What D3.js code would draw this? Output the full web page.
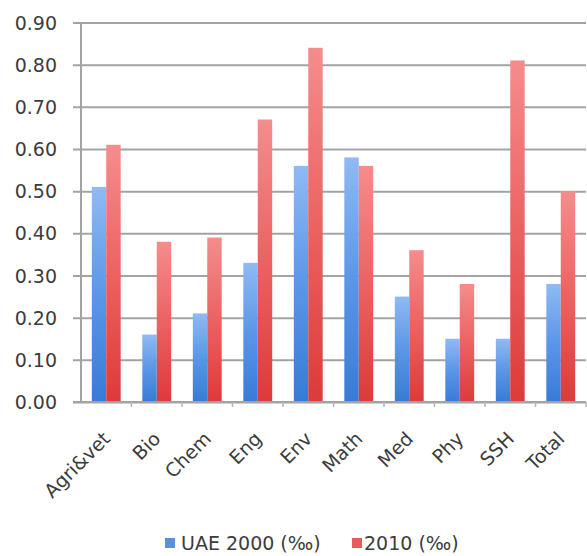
<!DOCTYPE html>
<html>
<head>
<meta charset="utf-8">
<script src="https://cdn.jsdelivr.net/npm/d3@7"></script>
<style>
  html, body { margin: 0; padding: 0; background: #fff; }
  svg { display: block; }
  text { font-family: "DejaVu Sans", Verdana, sans-serif; fill: #3c3c3c; }
</style>
</head>
<body>
<svg id="chart" width="587" height="556"></svg>
<script>
// Fields of research
const categories = ["Agri&vet", "Bio", "Chem", "Eng", "Env", "Math", "Med", "Phy", "SSH", "Total"];
// Per-mille shares, UAE 2000 and 2010
const uae2000 = [0.51, 0.16, 0.21, 0.33, 0.56, 0.58, 0.25, 0.15, 0.15, 0.28];
const uae2010 = [0.61, 0.38, 0.39, 0.67, 0.84, 0.56, 0.36, 0.28, 0.81, 0.50];
const seriesNames = ["UAE 2000 (‰)", "2010 (‰)"];
const yTicks = [0, 0.1, 0.2, 0.3, 0.4, 0.5, 0.6, 0.7, 0.8, 0.9];

const svg = d3.select("#chart");
const plotLeft = 81, plotRight = 586, plotTop = 22.5, plotBottom = 402;
const fontSize = "19px";

const x = d3.scaleBand().domain(categories).range([plotLeft, plotRight]).paddingInner(0).paddingOuter(0);
const y = d3.scaleLinear().domain([0, 0.9]).range([plotBottom, plotTop]);
const groupW = x.bandwidth() / 1.75;
const x1 = d3.scaleBand().domain([0, 1]).range([0, groupW]).padding(0);

// Gradients for the two series
const defs = svg.append("defs");
const grads = [
  { id: "gBlue", stops: ["#8fbaf4", "#5b96e8", "#377bd6"] },
  { id: "gRed", stops: ["#f68c8c", "#ec6262", "#dd3a3a"] }
];
grads.forEach(g => {
  const lgr = defs.append("linearGradient").attr("id", g.id)
    .attr("x1", 0).attr("y1", 0).attr("x2", 0).attr("y2", 1);
  lgr.append("stop").attr("offset", "0%").attr("stop-color", g.stops[0]);
  lgr.append("stop").attr("offset", "50%").attr("stop-color", g.stops[1]);
  lgr.append("stop").attr("offset", "100%").attr("stop-color", g.stops[2]);
});
const fills = ["url(#gBlue)", "url(#gRed)"];
const legendFills = ["#5b8fdc", "#e55a5a"];

// Gridlines with ticks extending left of the axis
const yAxis = d3.axisLeft(y).tickValues(yTicks)
  .tickSize(-(plotRight - plotLeft)).tickPadding(0).tickFormat("");
const gy = svg.append("g").attr("transform", `translate(${plotLeft},0)`).call(yAxis);
gy.select(".domain").remove();
gy.selectAll(".tick line").attr("x1", -8).attr("stroke", "#a3a3a3").attr("stroke-width", 2);

// Y tick labels
svg.append("g").selectAll("text").data(yTicks).join("text")
  .attr("x", 57).attr("y", d => y(d))
  .attr("text-anchor", "end").attr("dominant-baseline", "central")
  .style("font-size", fontSize)
  .text(d => d3.format(".2f")(d));

// Bars
const rows = categories.map((c, i) => ({ c, v: [uae2000[i], uae2010[i]] }));
const groups = svg.append("g").selectAll("g").data(rows).join("g")
  .attr("transform", d => `translate(${x(d.c) + (x.bandwidth() - groupW) / 2},0)`);
groups.selectAll("rect").data(d => d.v.map((v, s) => ({ v, s }))).join("rect")
  .attr("x", d => x1(d.s))
  .attr("width", x1.bandwidth())
  .attr("y", d => y(d.v))
  .attr("height", d => y(0) - y(d.v))
  .attr("fill", d => fills[d.s]);

// Y axis line
svg.append("line").attr("x1", plotLeft).attr("x2", plotLeft).attr("y1", plotTop).attr("y2", plotBottom)
  .attr("stroke", "#a3a3a3").attr("stroke-width", 2);

// X axis with ticks at category boundaries
svg.append("line").attr("x1", plotLeft - 8).attr("x2", plotRight).attr("y1", plotBottom).attr("y2", plotBottom)
  .attr("stroke", "#a3a3a3").attr("stroke-width", 2);
svg.append("g").selectAll("line").data(categories).join("line")
  .attr("x1", d => x(d) + x.bandwidth())
  .attr("x2", d => x(d) + x.bandwidth())
  .attr("y1", plotBottom).attr("y2", plotBottom + 5)
  .attr("stroke", "#b5b5b5").attr("stroke-width", 1.5);

// Rotated category labels
svg.append("g").selectAll("text").data(categories).join("text")
  .attr("transform", d => `translate(${x(d) + x.bandwidth() / 2 + 5},440) rotate(-45)`)
  .attr("text-anchor", "end")
  .style("font-size", fontSize)
  .text(d => d);

// Legend
const legendItems = [
  { name: seriesNames[0], sx: 165, tx: 181 },
  { name: seriesNames[1], sx: 352, tx: 364 }
];
const lg = svg.append("g");
legendItems.forEach((it, i) => {
  lg.append("rect").attr("x", it.sx).attr("y", 538).attr("width", 10).attr("height", 10)
    .attr("fill", legendFills[i]);
  lg.append("text").attr("x", it.tx).attr("y", 543)
    .attr("dominant-baseline", "central").style("font-size", fontSize).text(it.name);
});
</script>
</body>
</html>
